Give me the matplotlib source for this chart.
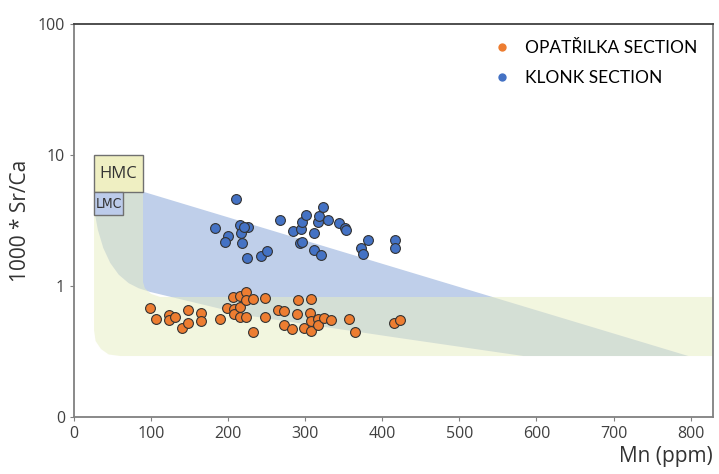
import numpy as np
import matplotlib.pyplot as plt
from matplotlib.patches import Rectangle
from matplotlib.lines import Line2D

# Opatrilka section (Mn ppm, 1000*Sr/Ca)
opa_mn = [99, 106, 123, 123, 131, 140, 148, 148, 165, 165, 190, 198, 206, 207, 207,
          215, 216, 215, 223, 223, 223, 232, 232, 248, 248, 265, 273, 273, 283, 290,
          289, 299, 307, 306, 307, 307, 316, 316, 324, 333, 357, 365, 415, 423]
opa_sr = [0.685, 0.560, 0.601, 0.550, 0.575, 0.474, 0.656, 0.526, 0.625, 0.539, 0.563,
          0.682, 0.827, 0.670, 0.606, 0.832, 0.695, 0.582, 0.900, 0.775, 0.580, 0.793,
          0.446, 0.814, 0.577, 0.650, 0.644, 0.504, 0.468, 0.778, 0.611, 0.480, 0.789,
          0.617, 0.545, 0.451, 0.560, 0.504, 0.567, 0.550, 0.557, 0.443, 0.525, 0.547]

# Klonk section
klo_mn = [210, 183, 215, 226, 217, 200, 196, 218, 225, 243, 251, 267, 284, 294, 296,
          301, 293, 296, 316, 318, 323, 312, 330, 312, 320, 344, 352, 353, 381, 372,
          375, 417, 417, 221]
klo_sr = [4.62, 2.79, 2.91, 2.84, 2.53, 2.41, 2.18, 2.13, 1.64, 1.70, 1.85, 3.21, 2.62,
          2.72, 3.10, 3.50, 2.14, 2.18, 3.10, 3.40, 3.99, 2.52, 3.19, 1.87, 1.72, 3.03,
          2.79, 2.68, 2.26, 1.94, 1.76, 2.24, 1.96, 2.82]

# field outlines (Mn, Sr/Ca)
lmc_x = [26, 797, 583, 423, 229, 99, 84, 71, 58, 47, 38, 31, 27, 26]
lmc_y = [6.8, 0.292, 0.292, 0.40, 0.59, 0.90, 0.96, 1.05, 1.22, 1.50, 1.95, 2.68, 3.6, 5.3]
hmc_x = [26, 89.6, 89.6, 92, 100, 112, 830, 830, 60, 45, 35, 28, 26]
hmc_y = [5.3, 5.3, 1.07, 0.96, 0.87, 0.824, 0.824, 0.292, 0.292, 0.30, 0.33, 0.38, 0.46]

orange = '#ED7D31'
blue = '#4472C4'

plt.figure(figsize=(7.19, 4.74), dpi=100)
ax = plt.axes([0.1029, 0.1203, 0.8887, 0.8291])

ax.fill(lmc_x, lmc_y, color='#BFCFEA', lw=0, zorder=1)
ax.fill(hmc_x, hmc_y, color=(232/255, 238/255, 196/255), alpha=0.53, lw=0, zorder=2)

ax.add_patch(Rectangle((26, 5.22), 63.6, 10 - 5.22, facecolor='#EFEFC2',
                       edgecolor='#707070', lw=1, zorder=3))
ax.text(57.8, 7.2, 'HMC', ha='center', va='center', fontsize=12,
        family='Open Sans', color='#333333', zorder=4)
ax.add_patch(Rectangle((26, 3.48), 37.6, 5.22 - 3.48, facecolor='#BCCBEA',
                       edgecolor='#707070', lw=1, zorder=3))
ax.text(44.8, 4.25, 'LMC', ha='center', va='center', fontsize=10, stretch='condensed',
        family=['Liberation Sans Narrow', 'DejaVu Sans'], color='#333333', zorder=4)

ax.scatter(opa_mn, opa_sr, s=50, color=orange, edgecolor='#333333', lw=0.8, zorder=5)
ax.scatter(klo_mn, klo_sr, s=50, color=blue, edgecolor='#333333', lw=0.8, zorder=5)

ax.set_yscale('log')
ax.set_xlim(0, 829)
ax.set_ylim(0.1, 100)
ax.set_yticks([0.1, 1, 10, 100])
ax.set_yticklabels(['0', '1', '10', '100'])
ax.yaxis.set_minor_locator(plt.NullLocator())
ax.set_xticks(np.arange(0, 801, 100))
ax.tick_params(labelsize=11.5, labelcolor='#404040', color='#808080', length=3)
for lab in ax.get_xticklabels() + ax.get_yticklabels():
    lab.set_family('Open Sans')

for side in ['left', 'bottom', 'right']:
    ax.spines[side].set_color('#808080')
    ax.spines[side].set_linewidth(1.3)
ax.spines['top'].set_color('#404040')
ax.spines['top'].set_linewidth(1.3)

ax.set_ylabel('1000 * Sr/Ca', fontsize=15, family='Open Sans', color='#333333', labelpad=5)
ax.set_xlabel('Mn (ppm)', fontsize=15, family='Open Sans', color='#333333', loc='right',
              labelpad=3)

handles = [Line2D([], [], ls='', marker='o', ms=6, color=orange, mec='none'),
           Line2D([], [], ls='', marker='o', ms=6, color=blue, mec='none')]
ax.legend(handles, ['OPATŘILKA SECTION', 'KLONK SECTION'], loc='upper right',
          bbox_to_anchor=(1.0, 1.0), frameon=False, handletextpad=0.3,
          labelspacing=0.85, prop={'family': 'Lato', 'size': 12.5})

plt.savefig('out.png', dpi=100)
